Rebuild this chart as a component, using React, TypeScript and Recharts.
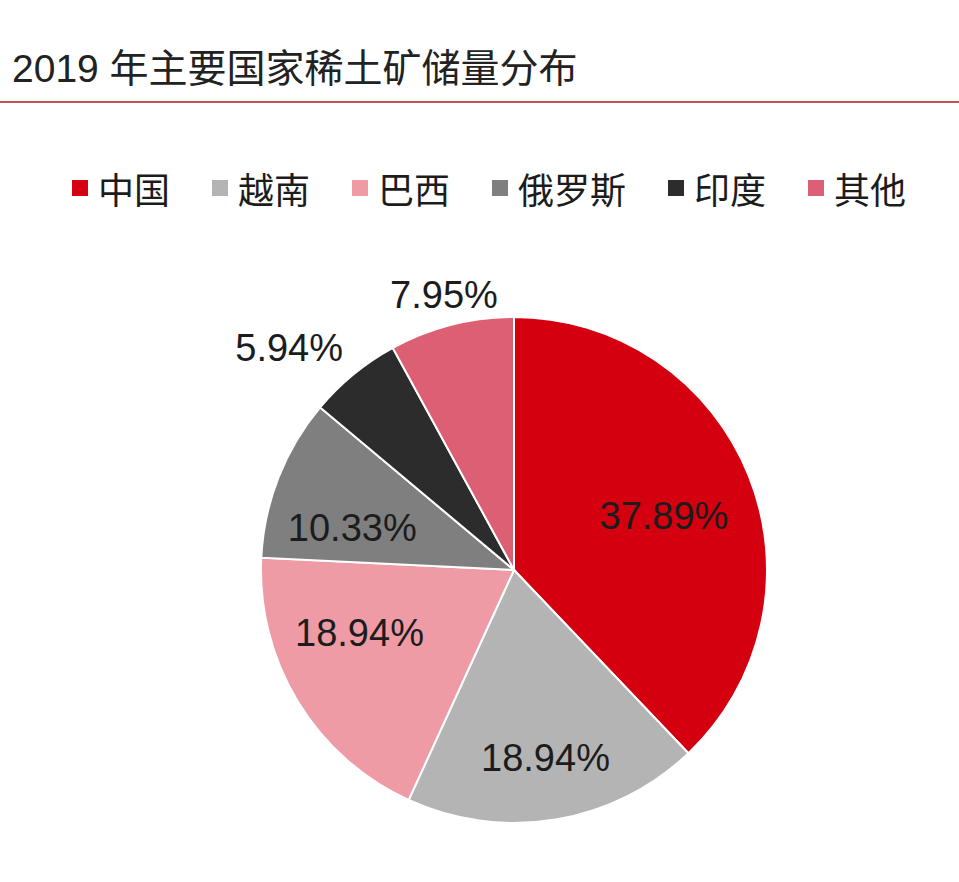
import React from "react";
import { PieChart, Pie, Cell } from "recharts";

const countries = ["中国", "越南", "巴西", "俄罗斯", "印度", "其他"];
const shares = [37.89, 18.94, 18.94, 10.33, 5.94, 7.95];
const colors = ["#D4000F", "#B4B4B4", "#EE9BA5", "#7F7F7F", "#2C2C2C", "#DC5F73"];
const labelRadiusFactor = [0.63, 0.755, 0.66, 0.66, 1.25, 1.12];
const labelAngleShift = [-2, 0, -9, 7, 6, 0];

const titleText = "2019 年主要国家稀土矿储量分布";

const data = countries.map((name, i) => ({ name, value: shares[i] }));

const RAD = Math.PI / 180;

const renderLabel = (props: any) => {
  const { cx, cy, midAngle, outerRadius, index, value } = props;
  const r = outerRadius * labelRadiusFactor[index];
  const a = (midAngle + labelAngleShift[index]) * RAD;
  const x = cx + r * Math.cos(-a);
  const y = cy + r * Math.sin(-a);
  return (
    <text
      x={x}
      y={y}
      textAnchor="middle"
      dominantBaseline="central"
      fill="#1c1c1c"
      style={{ fontFamily: "'Liberation Sans', Arial, sans-serif", fontSize: 38 }}
    >
      {value.toFixed(2)}%
    </text>
  );
};

const LegendBlock = () => (
  <div style={{ position: "absolute", left: 72, top: 168, display: "flex", alignItems: "center" }}>
    {countries.map((name, i) => (
      <div key={name} style={{ display: "flex", alignItems: "center", marginRight: 42 }}>
        <div style={{ width: 16, height: 16, background: colors[i], marginRight: 10 }} />
        <span
          style={{
            fontFamily: "'Noto Sans CJK SC', sans-serif",
            fontSize: 36,
            color: "#1c1c1c",
            lineHeight: "40px",
          }}
        >
          {name}
        </span>
      </div>
    ))}
  </div>
);

export default function App() {
  return (
    <div
      style={{
        position: "absolute",
        left: 0,
        top: 0,
        width: 959,
        height: 882,
        background: "#ffffff",
        overflow: "hidden",
      }}
    >
      <div
        style={{
          position: "absolute",
          left: 12,
          top: 46,
          fontFamily: "'Liberation Sans', 'Noto Sans CJK SC', sans-serif",
          fontSize: 39,
          lineHeight: "46px",
          color: "#222222",
          whiteSpace: "nowrap",
        }}
      >
        {titleText}
      </div>
      <div
        style={{
          position: "absolute",
          left: 0,
          top: 101,
          width: 959,
          height: 2,
          background: "#C25458",
        }}
      />
      <LegendBlock />
      <div style={{ position: "absolute", left: 0, top: 0 }}>
        <PieChart width={959} height={882} margin={{ top: 0, right: 0, bottom: 0, left: 0 }}>
          <Pie
            data={data}
            dataKey="value"
            nameKey="name"
            cx={514}
            cy={570}
            outerRadius={253}
            startAngle={90}
            endAngle={-270}
            stroke="#ffffff"
            strokeWidth={2}
            label={renderLabel}
            labelLine={false}
            isAnimationActive={false}
          >
            {data.map((d, i) => (
              <Cell key={d.name} fill={colors[i]} />
            ))}
          </Pie>
        </PieChart>
      </div>
    </div>
  );
}
